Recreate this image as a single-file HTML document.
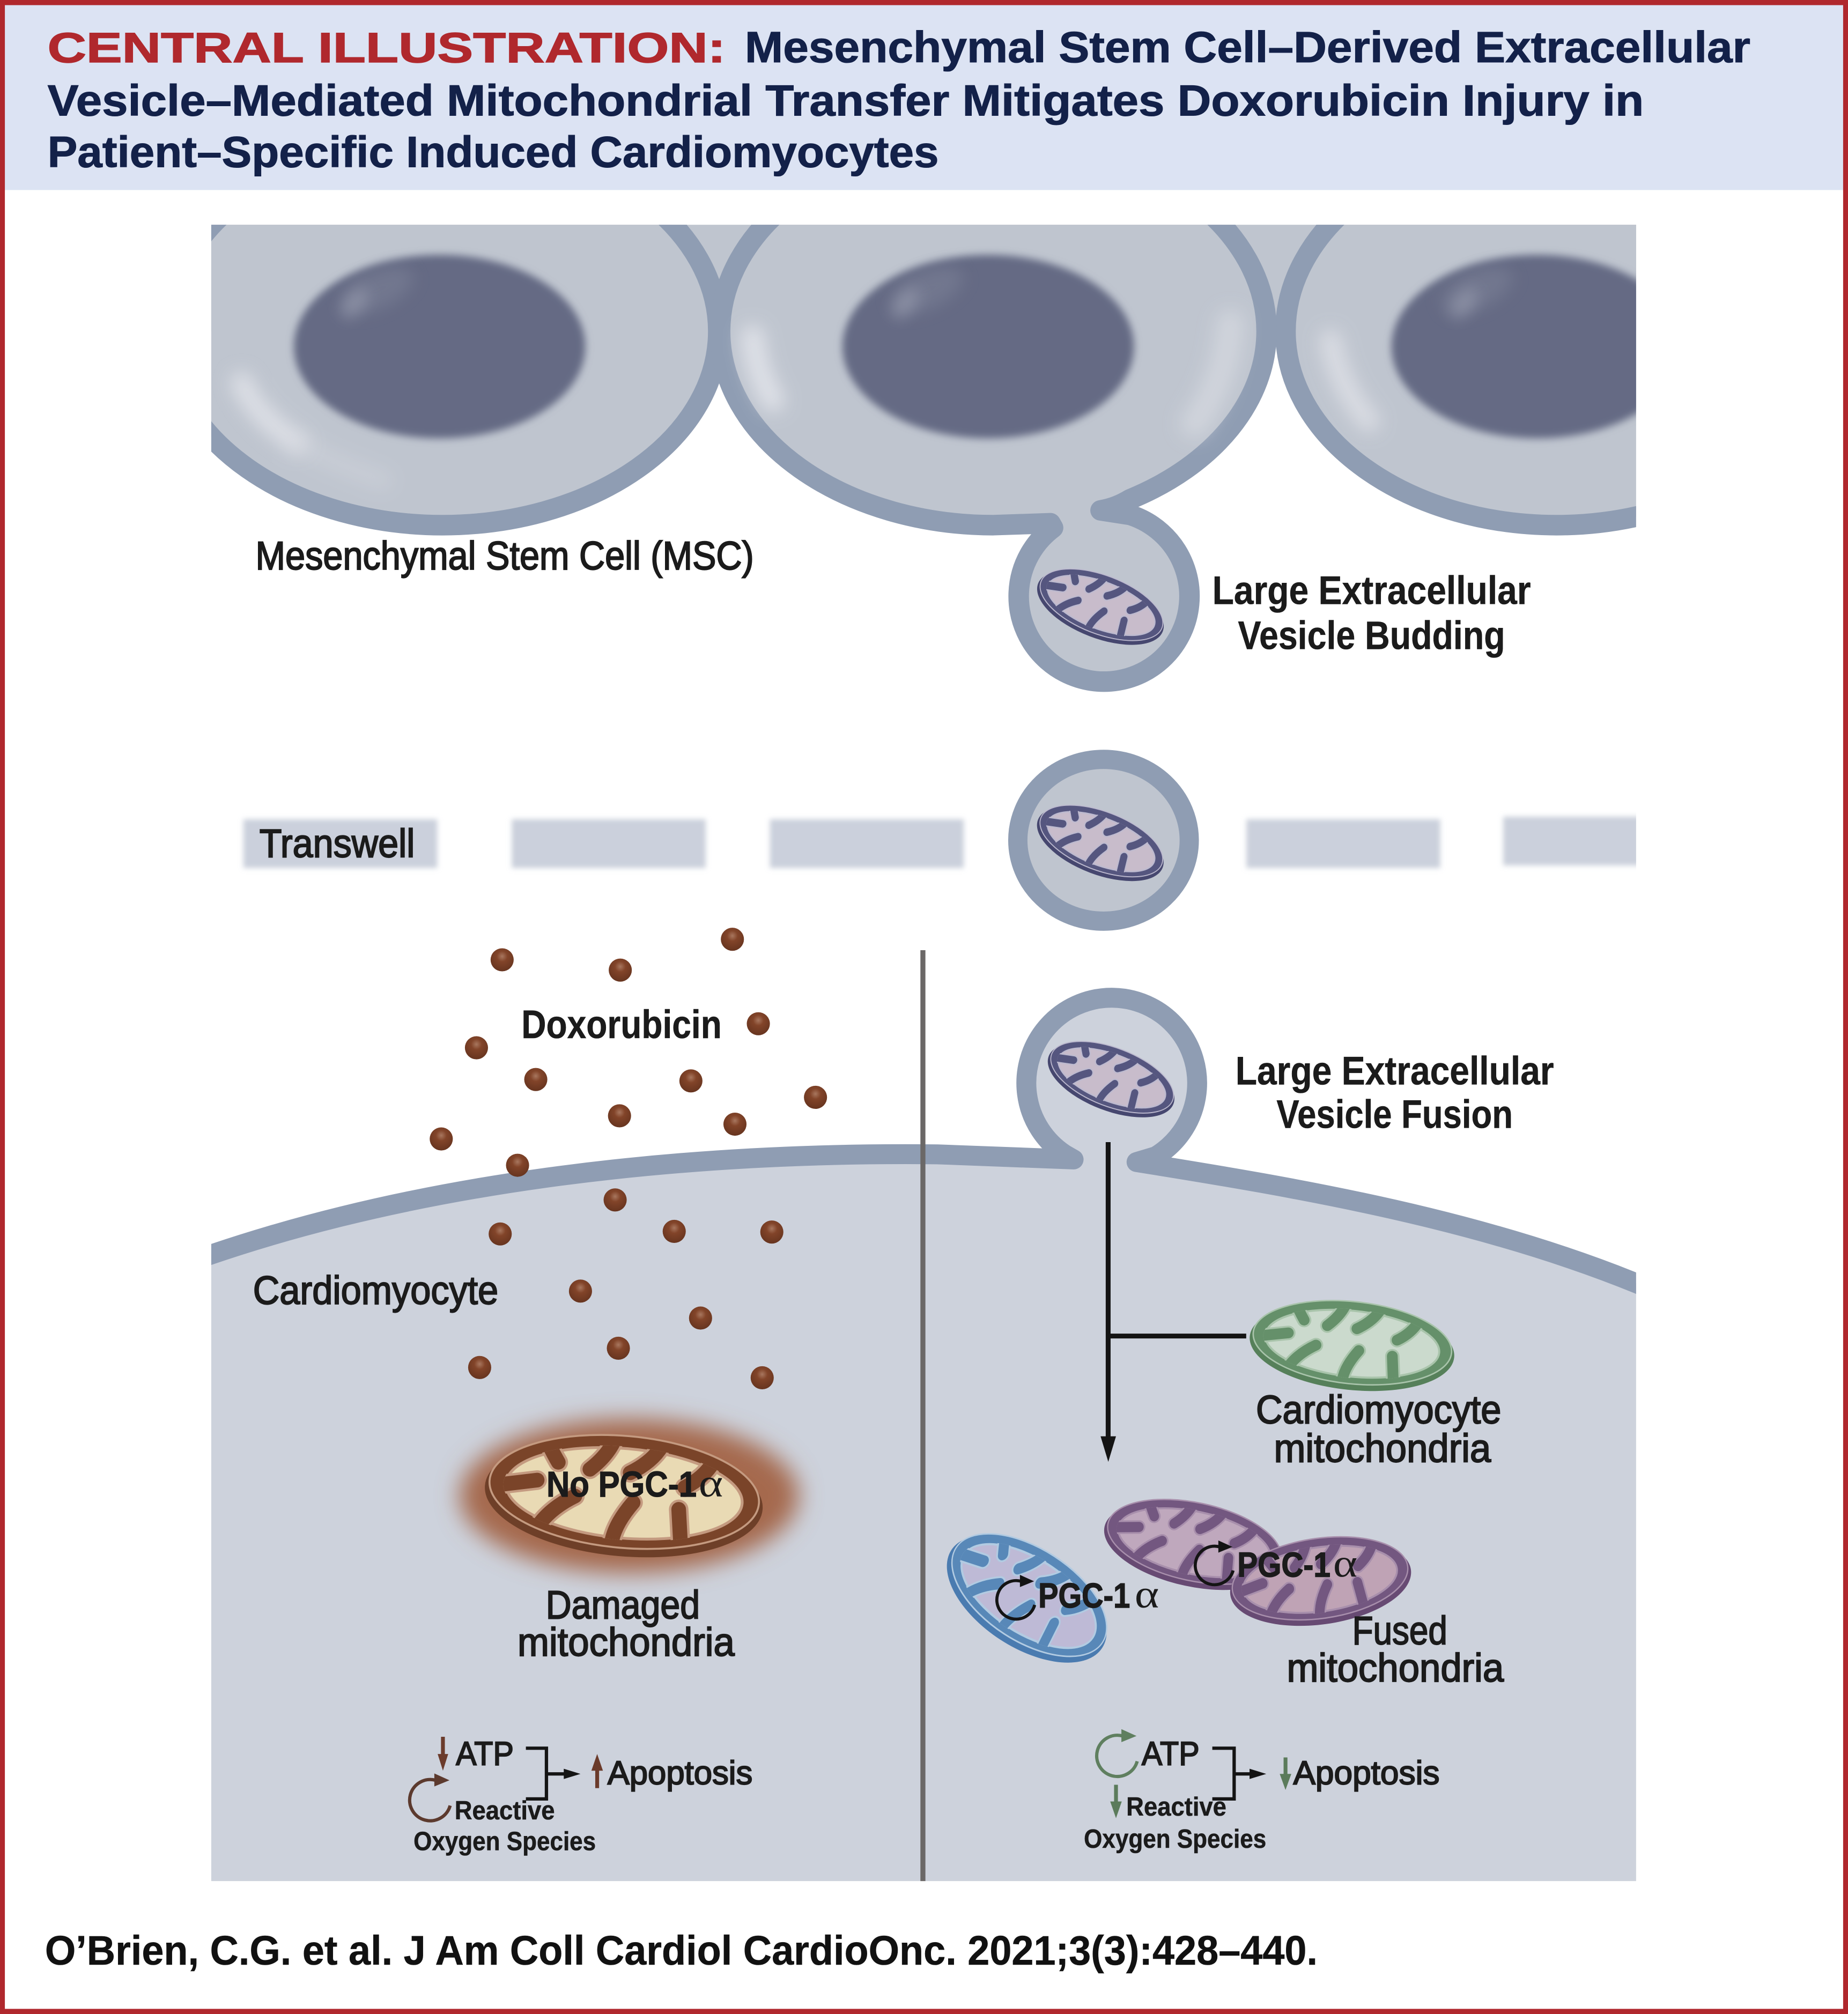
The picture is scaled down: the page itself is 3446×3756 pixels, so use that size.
<!DOCTYPE html>
<html lang="en">
<head>
<meta charset="utf-8">
<title>Central Illustration</title>
<style>
html,body{margin:0;padding:0;background:#fff;}
svg{display:block;}
text{font-family:"Liberation Sans",sans-serif;fill:#1b1b1b;}
.m{font-weight:400;stroke:#1b1b1b;stroke-width:.9;}
.b{font-weight:700;stroke:#1b1b1b;stroke-width:.25;}
.t{font-weight:700;font-size:34px;fill:#132149;stroke:#132149;stroke-width:.45;}
.g{font-family:"Liberation Serif",serif;font-size:31px;font-weight:400;}
.e{fill:var(--edge);}
.r{fill:var(--ring);stroke:var(--hi);stroke-width:1.4;}
.x{fill:var(--mat);stroke:var(--hi);stroke-width:2;}
.fa{fill:none;stroke:var(--hi);stroke-width:14;stroke-linecap:round;}
.fb{fill:none;stroke:var(--ring);stroke-width:10.5;stroke-linecap:round;}
.c{fill:none;stroke:currentColor;stroke-width:2.4;}
.ch{fill:currentColor;}
</style>
</head>
<body>
<svg xmlns="http://www.w3.org/2000/svg" width="3446" height="3756" viewBox="0 0 1439 1568.5" preserveAspectRatio="none">
<defs>
<clipPath id="panel"><rect x="164.5" y="175" width="1109.5" height="1290"/></clipPath>
<clipPath id="matrixclip"><ellipse cx="0" cy="0" rx="87" ry="33.5"/></clipPath>
<filter id="b2" x="-20%" y="-20%" width="140%" height="140%"><feGaussianBlur stdDeviation="2"/></filter>
<filter id="b3" x="-20%" y="-20%" width="140%" height="140%"><feGaussianBlur stdDeviation="3"/></filter>
<filter id="b6" x="-100%" y="-400%" width="300%" height="900%"><feGaussianBlur stdDeviation="6"/></filter>
<filter id="b7" filterUnits="userSpaceOnUse" x="160" y="175" width="1120" height="300"><feGaussianBlur stdDeviation="7"/></filter>
<filter id="b9" x="-30%" y="-50%" width="160%" height="200%"><feGaussianBlur stdDeviation="9"/></filter>
<radialGradient id="dot" cx="50%" cy="35%" r="66%">
<stop offset="0" stop-color="#A8775F"/>
<stop offset=".35" stop-color="#824429"/>
<stop offset="1" stop-color="#66341F"/>
</radialGradient>
<g id="mito">
<ellipse class="e" cx="0" cy="3" rx="100" ry="42"/>
<ellipse class="r" cx="0" cy="-1" rx="97" ry="40"/>
<ellipse class="x" cx="0" cy="0" rx="85" ry="32"/>
<g clip-path="url(#matrixclip)">
<path class="fa" d="M-60,-36Q-56,-28-49,-18M-10,-38Q-14,-26-26,-15M24,-36Q18,-24 3,-15M62,-28Q56,-16 43,-8M-92,2L-63,-4M-58,26Q-50,14-35,5M-6,38Q-6,24 7,6M44,36L40,8"/>
<path class="fb" d="M-60,-36Q-56,-28-49,-18M-10,-38Q-14,-26-26,-15M24,-36Q18,-24 3,-15M62,-28Q56,-16 43,-8M-92,2L-63,-4M-58,26Q-50,14-35,5M-6,38Q-6,24 7,6M44,36L40,8"/>
</g>
</g>
<g id="cycle">
<path class="c" d="M14.5,3.9A15 15 0 1 1 4,-14.5"/>
<polygon class="ch" points="3,-19.5 14,-14.5 3,-10"/>
</g>
</defs>

<rect x="0" y="0" width="1439" height="1568.5" fill="#fff"/>
<rect x="0" y="0" width="1439" height="148" fill="#DCE3F3"/>

<text x="37" y="48.5" font-size="33" font-weight="700" style="fill:#B0282D;stroke:#B0282D;stroke-width:.6" textLength="528" lengthAdjust="spacingAndGlyphs">CENTRAL ILLUSTRATION:</text>
<text class="t" x="580" y="48.5" textLength="783" lengthAdjust="spacingAndGlyphs">Mesenchymal Stem Cell–Derived Extracellular</text>
<text class="t" x="37" y="90" textLength="1243" lengthAdjust="spacingAndGlyphs">Vesicle–Mediated Mitochondrial Transfer Mitigates Doxorubicin Injury in</text>
<text class="t" x="37" y="130" textLength="694" lengthAdjust="spacingAndGlyphs">Patient–Specific Induced Cardiomyocytes</text>

<g clip-path="url(#panel)">
<rect x="160" y="175" width="1120" height="83" fill="#BFC5CF"/>
<ellipse cx="344.6" cy="258" rx="214.7" ry="151" fill="#BFC5CF" stroke="#8F9DB3" stroke-width="16"/>
<ellipse cx="1212" cy="258" rx="211" ry="151" fill="#BFC5CF" stroke="#8F9DB3" stroke-width="16"/>
<path d="M560.75,258A212.75 151 0 0 0 773.5,409L818,407.5L820,411A66.5 66.5 0 1 0 880,401L857,397.5C866,396 873,393 880,388.8A212.75 151 0 0 0 986.25,258A212.75 151 0 0 0 560.75,258Z" fill="#BFC5CF" stroke="#8F9DB3" stroke-width="16" stroke-linejoin="round"/>

<path d="M188,298Q200,325 232,345" fill="none" stroke="#E0E2E8" stroke-width="17" stroke-linecap="round" opacity=".9" filter="url(#b7)"/>
<path d="M232,345Q262,362 298,374" fill="none" stroke="#D4D7DE" stroke-width="17" stroke-linecap="round" opacity=".4" filter="url(#b7)"/>
<path d="M586,262Q588,288 602,312" fill="none" stroke="#E2E4EA" stroke-width="18" stroke-linecap="round" opacity=".9" filter="url(#b7)"/>
<path d="M958,252Q955,295 930,330" fill="none" stroke="#D6D9E0" stroke-width="22" stroke-linecap="round" opacity=".75" filter="url(#b7)"/>
<path d="M1036,265Q1042,300 1066,328" fill="none" stroke="#DDDFE5" stroke-width="17" stroke-linecap="round" opacity=".9" filter="url(#b7)"/>

<ellipse cx="342.3" cy="269.9" rx="113.5" ry="71.5" fill="#656B84" filter="url(#b3)"/>
<ellipse cx="769.5" cy="269.9" rx="113.5" ry="71.5" fill="#656B84" filter="url(#b3)"/>
<ellipse cx="1197" cy="269.9" rx="113.5" ry="71.5" fill="#656B84" filter="url(#b3)"/>

<ellipse cx="294" cy="226" rx="30" ry="14" transform="rotate(-25 294 226)" fill="#7D8298" opacity=".55" filter="url(#b6)"/>
<ellipse cx="722" cy="226" rx="30" ry="14" transform="rotate(-25 722 226)" fill="#7D8298" opacity=".55" filter="url(#b6)"/>
<ellipse cx="1150" cy="226" rx="30" ry="14" transform="rotate(-25 1150 226)" fill="#7D8298" opacity=".55" filter="url(#b6)"/>
<ellipse cx="276" cy="236" rx="14" ry="6" transform="rotate(-50 276 236)" fill="#9499AC" opacity=".85" filter="url(#b6)"/>
<ellipse cx="705" cy="236" rx="14" ry="6" transform="rotate(-50 705 236)" fill="#9499AC" opacity=".85" filter="url(#b6)"/>
<ellipse cx="1140" cy="236" rx="14" ry="6" transform="rotate(-50 1140 236)" fill="#9499AC" opacity=".85" filter="url(#b6)"/>

<use href="#mito" transform="translate(857.5 471.5) rotate(21) scale(.52 .57)" style="--edge:#46476F;--ring:#55567F;--mat:#C8BCCB;--hi:#BDBACF"/>

<g>
<rect x="189.5" y="638" width="151" height="38" fill="#CBD0DC" filter="url(#b2)"/>
<rect x="398.5" y="638" width="151" height="38" fill="#CBD0DC" filter="url(#b2)"/>
<rect x="599.5" y="638" width="151" height="38" fill="#CBD0DC" filter="url(#b2)"/>
<rect x="970.5" y="638" width="151" height="38" fill="#CBD0DC" filter="url(#b2)"/>
<rect x="1170.5" y="636" width="120" height="38" fill="#CBD0DC" filter="url(#b2)"/>
</g>
<ellipse cx="859.3" cy="654.4" rx="66.75" ry="63" fill="#BFC5CF" stroke="#8F9DB3" stroke-width="15"/>
<use href="#mito" transform="translate(857.4 655.5) rotate(21) scale(.52 .57)" style="--edge:#46476F;--ring:#55567F;--mat:#C8BCCB;--hi:#BDBACF"/>

<path d="M150,982C330,918 540,897 730,899L836,903L829,899A66.5 66.5 0 1 1 900,900.5L885,905C1010,925 1160,950 1290,1006V1480H150Z" fill="#CDD2DC" stroke="#8F9DB3" stroke-width="15.5" stroke-linejoin="round"/>
<use href="#mito" transform="translate(865.8 839.5) rotate(21) scale(.52 .57)" style="--edge:#46476F;--ring:#55567F;--mat:#C8BCCB;--hi:#BDBACF"/>

<rect x="716.7" y="740" width="3.9" height="730" fill="#6B6867"/>

<ellipse cx="490" cy="1165" rx="132" ry="60" fill="#A5694E" filter="url(#b9)"/>
<use href="#mito" transform="translate(486 1163) rotate(5) scale(1.085 1.09)" style="--edge:#6E3F28;--ring:#7A4429;--mat:#E9DAB4;--hi:#C49A80"/>

<use href="#mito" transform="translate(1053 1046.5) rotate(6) scale(.8 .8)" style="--edge:#56805A;--ring:#65906A;--mat:#CBDACD;--hi:#A9C4AB"/>
<use href="#mito" transform="translate(930 1201.5) rotate(12) scale(.71 .76)" style="--edge:#674A73;--ring:#735780;--mat:#BFA8BD;--hi:#A88FAC"/>
<use href="#mito" transform="translate(1028 1230) rotate(-8) scale(.71 .78)" style="--edge:#674A73;--ring:#735780;--mat:#BFA3B5;--hi:#A88FAC"/>
<use href="#mito" transform="translate(801 1243) rotate(33) scale(.7 .9)" style="--edge:#4A7BB0;--ring:#5888B8;--mat:#BEBAD6;--hi:#B2CBE2"/>

<line x1="862.9" y1="889.5" x2="862.9" y2="1122" stroke="#141414" stroke-width="3.8"/>
<polygon points="857,1118.6 869,1118.6 863,1138.5" fill="#141414"/>
<line x1="862.9" y1="1040.5" x2="970.4" y2="1040.5" stroke="#141414" stroke-width="3.8"/>

<g fill="url(#dot)">
<circle cx="391" cy="747.5" r="9"/>
<circle cx="483" cy="755.5" r="9"/>
<circle cx="570.3" cy="731.5" r="9"/>
<circle cx="590.5" cy="797.3" r="9"/>
<circle cx="371" cy="816" r="9"/>
<circle cx="417.2" cy="840.7" r="9"/>
<circle cx="538" cy="841.8" r="9"/>
<circle cx="635" cy="854.6" r="9"/>
<circle cx="482.4" cy="869" r="9"/>
<circle cx="572.3" cy="875.5" r="9"/>
<circle cx="343.6" cy="887" r="9"/>
<circle cx="403" cy="907.5" r="9"/>
<circle cx="479" cy="934.5" r="9"/>
<circle cx="389.5" cy="961" r="9"/>
<circle cx="525" cy="959" r="9"/>
<circle cx="601" cy="959.5" r="9"/>
<circle cx="452" cy="1005.5" r="9"/>
<circle cx="545.5" cy="1026.5" r="9"/>
<circle cx="481.5" cy="1050" r="9"/>
<circle cx="373.5" cy="1065" r="9"/>
<circle cx="593.5" cy="1073" r="9"/>
</g>

<use href="#cycle" transform="translate(791.2 1246)" color="#141414"/>
<use href="#cycle" transform="translate(945.7 1219.2)" color="#141414"/>

<g>
<path d="M343.4,1352.6H346.4V1366H349L344.9,1379L340.8,1366H343.4Z" fill="#6B3B2B"/>
<use href="#cycle" transform="translate(335 1402) scale(1.07)" color="#5C3A2E"/>
<path d="M409.5,1361.5H425.5V1401H409.5" fill="none" stroke="#141414" stroke-width="2.6"/>
<line x1="425.5" y1="1381.5" x2="442" y2="1381.5" stroke="#141414" stroke-width="2.6"/>
<polygon points="439,1377.5 452,1381.5 439,1385.5" fill="#141414"/>
<path d="M463.5,1392.6H466.5V1379H469.5L465,1366L460.5,1379H463.5Z" fill="#6B3B2B"/>
</g>

<g>
<use href="#cycle" transform="translate(870 1367.5) scale(1.07)" color="#5F7F5F"/>
<path d="M867.5,1390H870.5V1403H873.5L869,1416L864.5,1403H867.5Z" fill="#5B7B5B"/>
<path d="M944,1361.5H961V1401H944" fill="none" stroke="#141414" stroke-width="2.6"/>
<line x1="961" y1="1381.5" x2="976" y2="1381.5" stroke="#141414" stroke-width="2.6"/>
<polygon points="973,1377.5 986,1381.5 973,1385.5" fill="#141414"/>
<path d="M999.5,1368.7H1002.5V1381.5H1005.5L1001,1394L996.5,1381.5H999.5Z" fill="#5B7B5B"/>
</g>

<text class="m" x="202" y="667.5" font-size="31" textLength="121" lengthAdjust="spacingAndGlyphs">Transwell</text>
<text class="b" x="406" y="808.5" font-size="31" textLength="156" lengthAdjust="spacingAndGlyphs">Doxorubicin</text>
<text class="m" x="197" y="1015.5" font-size="31" textLength="191" lengthAdjust="spacingAndGlyphs">Cardiomyocyte</text>
<text class="b" x="425.5" y="1165.5" font-size="28" style="stroke-width:.5" textLength="117" lengthAdjust="spacingAndGlyphs">No PGC-1</text>
<text class="g" x="544" y="1165.5" font-size="31" textLength="19" lengthAdjust="spacingAndGlyphs">α</text>
</g>

<text class="m" x="199" y="443.5" font-size="31" textLength="388" lengthAdjust="spacingAndGlyphs">Mesenchymal Stem Cell (MSC)</text>
<text class="b" x="944" y="470.5" font-size="31" textLength="248" lengthAdjust="spacingAndGlyphs">Large Extracellular</text>
<text class="b" x="964" y="505.5" font-size="31" textLength="208" lengthAdjust="spacingAndGlyphs">Vesicle Budding</text>
<text class="b" x="962" y="844.5" font-size="31" textLength="248" lengthAdjust="spacingAndGlyphs">Large Extracellular</text>
<text class="b" x="994" y="878.5" font-size="31" textLength="184" lengthAdjust="spacingAndGlyphs">Vesicle Fusion</text>
<text class="m" x="978" y="1108.5" font-size="31" textLength="191" lengthAdjust="spacingAndGlyphs">Cardiomyocyte</text>
<text class="m" x="992" y="1138.5" font-size="31" textLength="169" lengthAdjust="spacingAndGlyphs">mitochondria</text>
<text class="m" x="425" y="1260.5" font-size="31" textLength="120" lengthAdjust="spacingAndGlyphs">Damaged</text>
<text class="m" x="403" y="1289.5" font-size="31" textLength="169" lengthAdjust="spacingAndGlyphs">mitochondria</text>
<text class="b" x="808.5" y="1252" font-size="27" style="stroke-width:.6" textLength="71.5" lengthAdjust="spacingAndGlyphs">PGC-1</text>
<text class="g" x="883.5" y="1252" textLength="19" lengthAdjust="spacingAndGlyphs">α</text>
<text class="b" x="963.5" y="1228" font-size="27" style="stroke-width:.6" textLength="72.5" lengthAdjust="spacingAndGlyphs">PGC-1</text>
<text class="g" x="1038" y="1228" textLength="19" lengthAdjust="spacingAndGlyphs">α</text>
<text class="m" x="1053" y="1280.5" font-size="31" textLength="74" lengthAdjust="spacingAndGlyphs">Fused</text>
<text class="m" x="1002" y="1309.5" font-size="31" textLength="169" lengthAdjust="spacingAndGlyphs">mitochondria</text>

<text class="m" x="355" y="1374.5" font-size="26" textLength="45" lengthAdjust="spacingAndGlyphs">ATP</text>
<text class="m" x="473" y="1389.5" font-size="26" textLength="113" lengthAdjust="spacingAndGlyphs">Apoptosis</text>
<text class="b" x="354" y="1417" font-size="20.5" textLength="78" lengthAdjust="spacingAndGlyphs">Reactive</text>
<text class="b" x="322" y="1441" font-size="20.5" textLength="142" lengthAdjust="spacingAndGlyphs">Oxygen Species</text>
<text class="m" x="889" y="1374.5" font-size="26" textLength="45" lengthAdjust="spacingAndGlyphs">ATP</text>
<text class="m" x="1007" y="1389.5" font-size="26" textLength="114" lengthAdjust="spacingAndGlyphs">Apoptosis</text>
<text class="b" x="877" y="1414" font-size="20.5" textLength="78" lengthAdjust="spacingAndGlyphs">Reactive</text>
<text class="b" x="844" y="1439" font-size="20.5" textLength="142" lengthAdjust="spacingAndGlyphs">Oxygen Species</text>

<text class="b" x="35" y="1530" font-size="32" style="fill:#111" textLength="991" lengthAdjust="spacingAndGlyphs">O’Brien, C.G. et al. J Am Coll Cardiol CardioOnc. 2021;3(3):428–440.</text>

<rect x="1.8" y="2" width="1435.4" height="1564.5" fill="none" stroke="#B0282D" stroke-width="4"/>
</svg>
</body>
</html>
